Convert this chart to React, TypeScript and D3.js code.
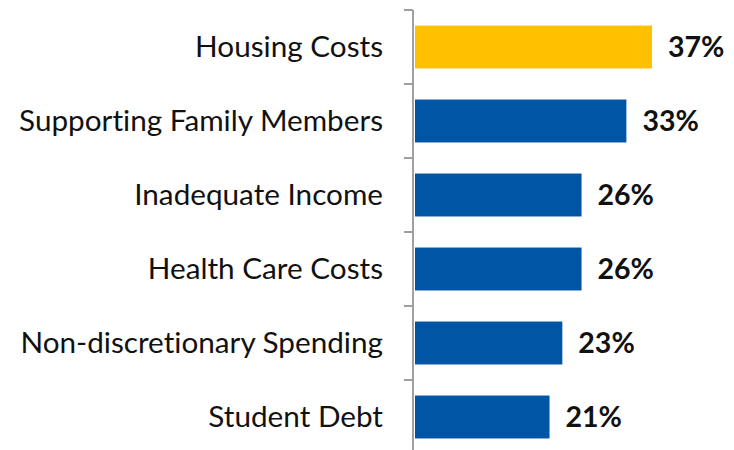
import React from 'react';
import * as d3 from 'd3';

// data
const categories = [
  'Housing Costs',
  'Supporting Family Members',
  'Inadequate Income',
  'Health Care Costs',
  'Non-discretionary Spending',
  'Student Debt',
];
const values = [37, 33, 26, 26, 23, 21];
const highlight = ['Housing Costs'];

const width = 734;
const height = 450;
const axisX = 413;

export default function App() {
  const yScale = d3.scaleBand<string>().domain(categories).range([10, 454]).paddingInner(0.42).paddingOuter(0.21);
  const xScale = d3.scaleLinear().domain([0, 37]).range([axisX + 2, 652]);
  const step = yScale.step();
  const ticks = d3.range(1, categories.length).map((i) => 10 + i * step);

  return (
    <svg
      width={width}
      height={height}
      style={{ position: 'absolute', left: 0, top: 0, fontVariantLigatures: 'none' }}
      fontFamily="Lato, 'Open Sans', sans-serif"
    >
      {categories.map((c, i) => (
        <g key={c}>
          <rect
            x={xScale(0)}
            y={yScale(c)}
            width={xScale(values[i]) - xScale(0)}
            height={yScale.bandwidth()}
            fill={highlight.includes(c) ? '#FFC000' : '#0055A5'}
          />
          <text x={383} y={yScale(c)! + yScale.bandwidth() / 2} dy="0.35em" textAnchor="end" fontSize={29.7} fill="#111">
            {c}
          </text>
          <text
            x={xScale(values[i]) + 16}
            y={yScale(c)! + yScale.bandwidth() / 2}
            dy="0.36em"
            fontSize={28.5}
            fontWeight="bold"
            fill="#111"
          >
            {values[i]}%
          </text>
        </g>
      ))}
      <line x1={axisX} x2={axisX} y1={10} y2={height} stroke="#A0A0A0" strokeWidth={2} />
      <line x1={404} x2={axisX} y1={10} y2={10} stroke="#A0A0A0" strokeWidth={2} />
      {ticks.map((t) => (
        <line key={t} x1={404} x2={axisX} y1={t} y2={t} stroke="#A0A0A0" strokeWidth={2} />
      ))}
    </svg>
  );
}
